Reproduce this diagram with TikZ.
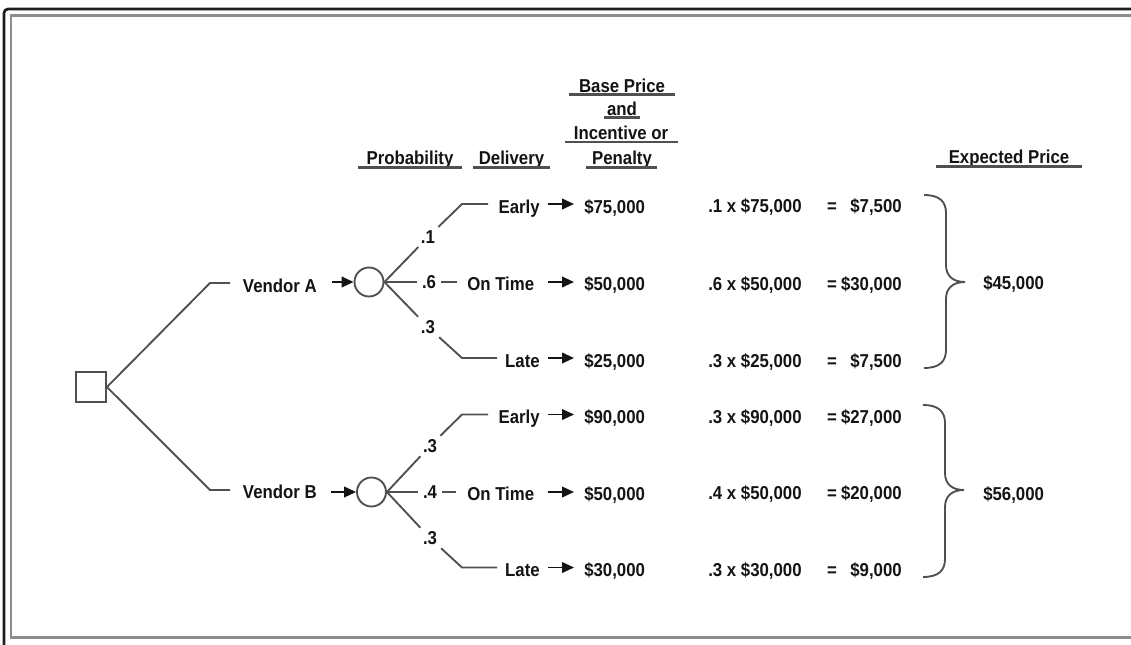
\documentclass[tikz,border=0pt]{standalone}
\usepackage{fontspec}
\setmainfont{Liberation Sans}[FakeStretch=0.9]
\usetikzlibrary{arrows.meta}
\definecolor{linec}{HTML}{505050}
\definecolor{txtc}{HTML}{141414}
\definecolor{frameo}{HTML}{1E1E1E}
\definecolor{framei}{HTML}{8C8C8C}
\newcommand{\dtfont}{\fontsize{14pt}{16pt}\selectfont\bfseries}
\newcommand{\dtbrace}[4]{%
  \draw[ln] (#1,#2) .. controls (#1+16,#2) and (#1+22,#2+7) .. (#1+22,#2+18)
    -- (#1+22,#3-17) .. controls (#1+22,#3-6) and (#1+29,#3) .. (#1+41,#3)
    .. controls (#1+29,#3) and (#1+22,#3+6) .. (#1+22,#3+17)
    -- (#1+22,#4-18) .. controls (#1+22,#4-7) and (#1+16,#4) .. (#1,#4);}
\begin{document}
\begin{tikzpicture}[x=0.75pt,y=-0.75pt,
  ln/.style={draw=linec,line width=1.4pt},
  arr/.style={draw=txtc,line width=1.3pt,-{Triangle[length=9pt,width=8pt]}},
  txt/.style={inner sep=0pt,font=\dtfont,text=txtc},
  plab/.style={inner xsep=3.5pt,inner ysep=2.5pt,font=\dtfont,text=txtc},
  ul/.style={draw=linec,line width=1.7pt},
  circ/.style={circle,draw=linec,line width=1.4pt,minimum size=21.75pt,inner sep=0pt},
  sq/.style={rectangle,draw=linec,line width=1.4pt,minimum size=22.5pt,inner sep=0pt}]
\useasboundingbox (0,0) rectangle (1131,644);
\fill[white] (0,0) rectangle (1131,644);
% frame
\draw[draw=frameo,line width=2pt,rounded corners=3pt] (4,9) rectangle (1150,660);
\draw[draw=framei,line width=2pt] (11,15.5) rectangle (1150,637.5);

% headers
\node[txt,anchor=base] (hProb) at (410,164) {Probability};
\node[txt,anchor=base] (hDel) at (511.5,164) {Delivery};
\node[txt,anchor=base] (hBase) at (622,92) {Base Price};
\node[txt,anchor=base] (hAnd) at (622,115) {and};
\node[txt,anchor=base] (hInc) at (621,139.5) {Incentive or};
\node[txt,anchor=base] (hPen) at (622,164) {Penalty};
\node[txt,anchor=base] (hExp) at (1009,163.5) {Expected Price};
\draw[ul] (358,167.5) -- (462,167.5);
\draw[ul] (473,167.5) -- (550,167.5);
\draw[ul] (569,94.5) -- (675,94.5);
\draw[ul] (604,117.5) -- (640,117.5);
\draw[ul] (565,142) -- (678,142);
\draw[ul] (586,167.5) -- (657,167.5);
\draw[ul] (936,166.5) -- (1082,166.5);

% decision node
\node[sq] (dec) at (91,387) {};
\coordinate (kA) at (210,283);
\coordinate (eA) at (230,283);
\coordinate (kB) at (210,490);
\coordinate (eB) at (230,490);
\draw[ln] (dec.east) -- (kA) -- (eA);
\draw[ln] (dec.east) -- (kB) -- (eB);
\node[txt,anchor=base east] (vA) at (317,292) {Vendor A};
\node[txt,anchor=base east] (vB) at (317,498) {Vendor B};

% chance nodes
\node[circ] (cA) at (369,282) {};
\node[circ] (cB) at (371.5,492) {};
\coordinate (sA) at (332,282);
\coordinate (sB) at (331,492);
\draw[arr] (sA) -- (cA.west);
\draw[arr] (sB) -- (cB.west);

% probability labels
\node[plab] (pA1) at (428,237) {.1};
\node[plab] (pA6) at (429,282) {.6};
\node[plab] (pA3) at (428,327) {.3};
\node[plab] (pB3u) at (430,446) {.3};
\node[plab] (pB4) at (430,492) {.4};
\node[plab] (pB3l) at (430,538) {.3};

% branch lines A
\coordinate (eAE) at (462,204);  \coordinate (tAE) at (488,204);
\coordinate (tAO) at (457,282);
\coordinate (eAL) at (462,358);  \coordinate (tAL) at (497,358);
\draw[ln] (cA.east) -- (pA1) -- (eAE) -- (tAE);
\draw[ln] (cA.east) -- (pA6) -- (tAO);
\draw[ln] (cA.east) -- (pA3) -- (eAL) -- (tAL);
% branch lines B
\coordinate (eBE) at (462,414.5);  \coordinate (tBE) at (488,414.5);
\coordinate (tBO) at (456,492);
\coordinate (eBL) at (462,567.5);  \coordinate (tBL) at (497,567.5);
\draw[ln] (cB.east) -- (pB3u) -- (eBE) -- (tBE);
\draw[ln] (cB.east) -- (pB4) -- (tBO);
\draw[ln] (cB.east) -- (pB3l) -- (eBL) -- (tBL);

% outcomes A
\node[txt,anchor=base east] (oAE) at (540,213) {Early};
\node[txt,anchor=base west] (oAO) at (467,290.5) {On Time};
\node[txt,anchor=base east] (oAL) at (540,367) {Late};
\node[txt,anchor=base west] (bAE) at (584,213) {\$75,000};
\node[txt,anchor=base west] (bAO) at (584,290.5) {\$50,000};
\node[txt,anchor=base west] (bAL) at (584,367) {\$25,000};
% outcomes B
\node[txt,anchor=base east] (oBE) at (540,423.5) {Early};
\node[txt,anchor=base west] (oBO) at (467,500) {On Time};
\node[txt,anchor=base east] (oBL) at (540,576.5) {Late};
\node[txt,anchor=base west] (bBE) at (584,423.5) {\$90,000};
\node[txt,anchor=base west] (bBO) at (584,500) {\$50,000};
\node[txt,anchor=base west] (bBL) at (584,576.5) {\$30,000};

% arrows to prices
\coordinate (aAE1) at (548,204);   \coordinate (aAE2) at (574,204);
\coordinate (aAO1) at (548,282);   \coordinate (aAO2) at (574,282);
\coordinate (aAL1) at (548,358);   \coordinate (aAL2) at (574,358);
\coordinate (aBE1) at (548,414.5); \coordinate (aBE2) at (574,414.5);
\coordinate (aBO1) at (548,492);   \coordinate (aBO2) at (574,492);
\coordinate (aBL1) at (548,567.5); \coordinate (aBL2) at (574,567.5);
\draw[arr] (aAE1) -- (aAE2);
\draw[arr] (aAO1) -- (aAO2);
\draw[arr] (aAL1) -- (aAL2);
\draw[arr] (aBE1) -- (aBE2);
\draw[arr] (aBO1) -- (aBO2);
\draw[arr] (aBL1) -- (aBL2);

% expected value calculations A
\node[txt,anchor=base west] (mA1) at (708,212.5) {.1 x \$75,000};
\node[txt,anchor=base west] (mA2) at (708,290.5) {.6 x \$50,000};
\node[txt,anchor=base west] (mA3) at (708,367) {.3 x \$25,000};
\node[txt,anchor=base] (qA1) at (832,212.5) {=};
\node[txt,anchor=base] (qA2) at (832,290.5) {=};
\node[txt,anchor=base] (qA3) at (832,367) {=};
\node[txt,anchor=base east] (rA1) at (902,212.5) {\$7,500};
\node[txt,anchor=base east] (rA2) at (902,290.5) {\$30,000};
\node[txt,anchor=base east] (rA3) at (902,367) {\$7,500};
% expected value calculations B
\node[txt,anchor=base west] (mB1) at (708,423.5) {.3 x \$90,000};
\node[txt,anchor=base west] (mB2) at (708,499.5) {.4 x \$50,000};
\node[txt,anchor=base west] (mB3) at (708,576.5) {.3 x \$30,000};
\node[txt,anchor=base] (qB1) at (832,423.5) {=};
\node[txt,anchor=base] (qB2) at (832,499.5) {=};
\node[txt,anchor=base] (qB3) at (832,576.5) {=};
\node[txt,anchor=base east] (rB1) at (902,423.5) {\$27,000};
\node[txt,anchor=base east] (rB2) at (902,499.5) {\$20,000};
\node[txt,anchor=base east] (rB3) at (902,576.5) {\$9,000};

% braces and totals
\dtbrace{924}{195}{282}{368}
\dtbrace{923}{405}{490}{577}
\node[txt,anchor=base west] (totA) at (983,289) {\$45,000};
\node[txt,anchor=base west] (totB) at (983,500) {\$56,000};
\end{tikzpicture}
\end{document}
